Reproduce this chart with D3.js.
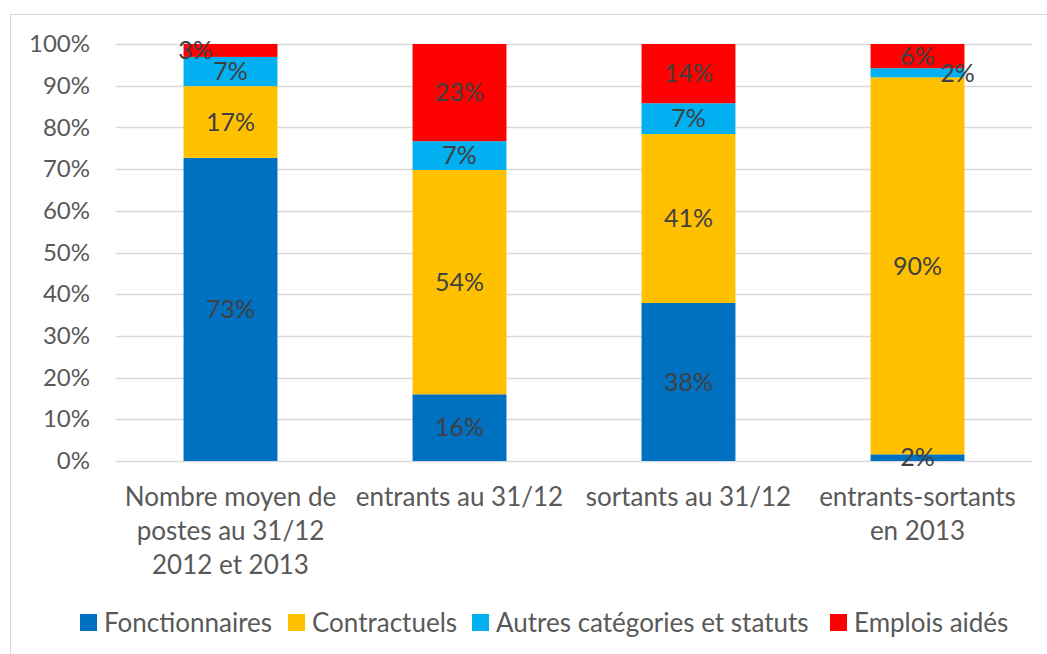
<!DOCTYPE html>
<html lang="fr">
<head>
<meta charset="UTF-8">
<title>Répartition des postes</title>
<script src="https://d3js.org/d3.v7.min.js"></script>
<style>
    body { margin: 0; padding: 0; background: #fff; }
    svg { display: block; font-family: Lato, 'Open Sans', sans-serif; }
</style>
</head>
<body>
<div id="chart"></div>
<script>
// data (share of each status, in %)
var categories = [
    ["Nombre moyen de", "postes au 31/12", "2012 et 2013"],
    ["entrants au 31/12"],
    ["sortants au 31/12"],
    ["entrants-sortants", "en 2013"]
];
var seriesNames = ["Fonctionnaires", "Contractuels", "Autres catégories et statuts", "Emplois aidés"];
var fonctionnaires = [72.7, 16.0, 37.9, 1.6];
var contractuels   = [17.2, 53.8, 40.5, 90.4];
var autres         = [7.0, 6.9, 7.4, 2.2];
var emploisAides   = [3.1, 23.3, 14.2, 5.8];
var yTicks = [0, 10, 20, 30, 40, 50, 60, 70, 80, 90, 100];

var colors = ["#0070C0", "#FFC000", "#00B0F0", "#FF0000"];

var width = 1047, height = 654;
var svg = d3.select("#chart").append("svg")
    .attr("width", width)
    .attr("height", height);

// chart frame (only left and top edges fall inside the picture)
svg.append("rect")
    .attr("x", 10.5).attr("y", 14.5)
    .attr("width", 1060).attr("height", 700)
    .attr("fill", "none")
    .attr("stroke", "#d9d9d9");

var x = d3.scaleBand()
    .domain(d3.range(categories.length))
    .range([116, 1032])
    .paddingInner(0.59)
    .paddingOuter(0.295);

var y = d3.scaleLinear()
    .domain([0, 100])
    .range([461, 44]);

// gridlines
svg.append("g")
    .selectAll("line")
    .data(yTicks)
    .join("line")
    .attr("x1", 116).attr("x2", 1032)
    .attr("y1", d => Math.round(y(d)) + 0.5)
    .attr("y2", d => Math.round(y(d)) + 0.5)
    .attr("stroke", "#d9d9d9")
    .attr("stroke-width", 1.5);

// y axis labels
var yAxis = d3.axisLeft(y)
    .tickValues(yTicks)
    .tickFormat(d => d + "%")
    .tickSize(0)
    .tickPadding(0);
var yg = svg.append("g")
    .attr("transform", "translate(90,0)")
    .call(yAxis);
yg.select(".domain").remove();
yg.selectAll("text")
    .attr("fill", "#595959")
    .style("font-size", "24px")
    .style("font-family", "Lato, sans-serif");

// stacked bars
var table = categories.map(function(c, i) {
    return {
        i: i,
        Fonctionnaires: fonctionnaires[i],
        Contractuels: contractuels[i],
        "Autres catégories et statuts": autres[i],
        "Emplois aidés": emploisAides[i]
    };
});
var stack = d3.stack().keys(seriesNames)(table);

var layers = svg.append("g")
    .selectAll("g")
    .data(stack)
    .join("g")
    .attr("fill", (d, k) => colors[k]);

layers.selectAll("rect")
    .data(d => d)
    .join("rect")
    .attr("x", d => x(d.data.i))
    .attr("width", x.bandwidth())
    .attr("y", d => y(d[1]))
    .attr("height", d => y(d[0]) - y(d[1]));

// data labels (a few were moved by hand in the original)
var labelShift = { "0-3": -35, "3-2": 40 };
stack.forEach(function(layer, k) {
    svg.append("g")
        .selectAll("text")
        .data(layer)
        .join("text")
        .attr("x", d => x(d.data.i) + x.bandwidth() / 2 + (labelShift[d.data.i + "-" + k] || 0))
        .attr("y", d => (y(d[0]) + y(d[1])) / 2)
        .attr("dy", "0.35em")
        .attr("text-anchor", "middle")
        .attr("fill", "#404040")
        .style("font-size", "25px")
        .text(d => Math.round(d[1] - d[0]) + "%");
});

// category labels
var xg = svg.append("g");
categories.forEach(function(lines, i) {
    var t = xg.append("text")
        .attr("x", x(i) + x.bandwidth() / 2)
        .attr("y", 497)
        .attr("text-anchor", "middle")
        .attr("fill", "#595959")
        .style("font-size", "26px");
    lines.forEach(function(line, j) {
        t.append("tspan")
            .attr("x", x(i) + x.bandwidth() / 2)
            .attr("y", 497 + j * 34)
            .attr("dy", "0.35em")
            .text(line);
    });
});

// legend
var legendX = [80, 288, 472, 830];
var legend = svg.append("g")
    .selectAll("g")
    .data(seriesNames)
    .join("g")
    .attr("transform", (d, k) => "translate(" + legendX[k] + ",623)");
legend.append("rect")
    .attr("x", 0).attr("y", -9)
    .attr("width", 17).attr("height", 17)
    .attr("fill", (d, k) => colors[k]);
legend.append("text")
    .attr("x", 24)
    .attr("dy", "0.35em")
    .attr("fill", "#595959")
    .style("font-size", "26px")
    .text(d => d);
</script>
</body>
</html>
